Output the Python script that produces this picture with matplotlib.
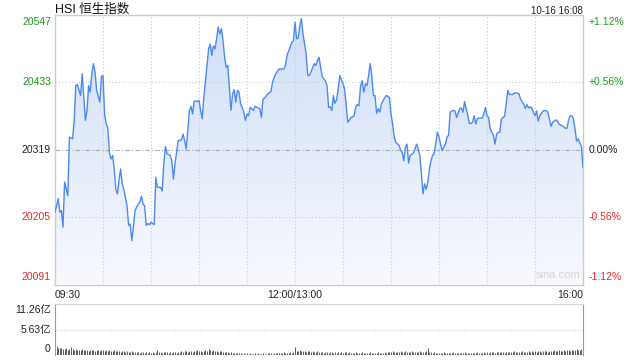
import matplotlib
matplotlib.use('Agg')
import matplotlib.pyplot as plt
import numpy as np
from matplotlib.colors import LinearSegmentedColormap

plt.rcParams['font.family'] = ['Liberation Sans', 'Noto Sans CJK SC', 'DejaVu Sans']

# ---------------- data ----------------
title = 'HSI 恒生指数'
stamp = '10-16 16:08'
prev_close = 20319
price_labels = [20547, 20433, 20319, 20205, 20091]
pct_labels = ['+1.12%', '+0.56%', '0.00%', '-0.56%', '-1.12%']
time_ticks = [0, 150, 330]          # trading minutes since 09:30 (lunch removed)
time_labels = ['09:30', '12:00/13:00', '16:00']
vol_ticks = [11.26, 5.63, 0]
vol_labels = ['11.26亿', '5.63亿', '0']

minutes = [0, 2, 3, 4, 5, 6, 8, 9, 11, 12, 13, 14, 16, 17, 18, 19, 20, 21, 22, 23,
           24, 25, 26, 28, 29, 30, 31, 32, 33, 34, 35, 36, 37, 38, 39, 40, 41, 42, 43, 45,
           46, 47, 48, 49, 50, 52, 53, 54, 55, 56, 57, 58, 59, 60, 62, 63, 64, 66, 67, 68,
           69, 70, 72, 73, 74, 75, 77, 79, 80, 81, 82, 83, 84, 85, 86, 87, 89, 90, 91, 92,
           93, 95, 96, 97, 98, 99, 100, 101, 102, 103, 104, 105, 106, 107, 108, 109, 110, 111, 112, 113,
           114, 115, 116, 117, 118, 119, 120, 121, 122, 124, 125, 127, 128, 129, 130, 131, 133, 135, 136, 137,
           138, 140, 143, 144, 145, 147, 148, 149, 150, 151, 152, 153, 154, 155, 157, 158, 159, 160, 162, 163,
           164, 165, 166, 167, 169, 170, 171, 172, 173, 174, 175, 176, 177, 178, 180, 181, 182, 183, 184, 185,
           187, 188, 189, 190, 191, 192, 193, 194, 195, 196, 197, 198, 199, 200, 201, 202, 203, 204, 206, 207,
           208, 209, 210, 211, 212, 213, 215, 216, 217, 218, 219, 220, 221, 222, 224, 225, 226, 227, 228, 229,
           230, 231, 232, 233, 234, 235, 236, 237, 239, 240, 241, 242, 244, 245, 246, 247, 248, 249, 250, 251,
           253, 254, 255, 256, 257, 258, 259, 260, 261, 262, 263, 264, 265, 267, 268, 269, 270, 271, 272, 273,
           274, 275, 276, 277, 278, 279, 280, 281, 282, 283, 284, 286, 287, 288, 290, 291, 292, 293, 294, 295,
           296, 297, 298, 299, 300, 301, 302, 303, 304, 305, 307, 308, 309, 310, 311, 312, 313, 314, 315, 317,
           318, 319, 320, 321, 322, 323, 324, 325, 326, 327, 328, 329, 330]

index_values = [20213, 20236, 20213, 20216, 20188, 20264, 20241, 20340, 20337, 20368, 20427, 20429, 20410, 20447, 20407, 20368, 20385, 20427, 20416, 20447,
                20464, 20450, 20419, 20399, 20442, 20444, 20379, 20362, 20356, 20314, 20303, 20309, 20286, 20252, 20244, 20267, 20286, 20261, 20252, 20224,
                20191, 20193, 20165, 20188, 20216, 20227, 20230, 20240, 20227, 20224, 20191, 20194, 20192, 20196, 20192, 20272, 20255, 20255, 20249, 20295,
                20324, 20312, 20309, 20300, 20269, 20295, 20334, 20335, 20345, 20334, 20320, 20351, 20385, 20392, 20379, 20401, 20400, 20402, 20385, 20371,
                20407, 20461, 20489, 20497, 20478, 20494, 20489, 20506, 20526, 20514, 20523, 20503, 20475, 20458, 20461, 20424, 20385, 20413, 20420, 20399,
                20419, 20416, 20396, 20390, 20382, 20368, 20379, 20376, 20390, 20385, 20392, 20389, 20388, 20373, 20404, 20406, 20413, 20417, 20433, 20441,
                20447, 20455, 20455, 20461, 20478, 20492, 20500, 20503, 20534, 20506, 20507, 20528, 20540, 20514, 20480, 20444, 20444, 20450, 20464, 20461,
                20469, 20475, 20458, 20442, 20435, 20427, 20390, 20391, 20385, 20410, 20397, 20403, 20421, 20444, 20430, 20421, 20393, 20365, 20369, 20373,
                20376, 20391, 20395, 20393, 20427, 20435, 20416, 20430, 20427, 20444, 20464, 20444, 20410, 20410, 20380, 20388, 20382, 20396, 20406, 20410,
                20409, 20407, 20379, 20362, 20340, 20331, 20326, 20318, 20314, 20300, 20323, 20328, 20296, 20309, 20313, 20320, 20328, 20320, 20309, 20278,
                20244, 20261, 20252, 20264, 20286, 20300, 20309, 20312, 20348, 20340, 20328, 20317, 20328, 20340, 20343, 20382, 20384, 20385, 20384, 20373,
                20388, 20389, 20382, 20400, 20388, 20376, 20363, 20363, 20365, 20376, 20362, 20371, 20372, 20372, 20379, 20390, 20376, 20373, 20354, 20348,
                20343, 20328, 20345, 20348, 20348, 20371, 20373, 20375, 20396, 20419, 20412, 20412, 20414, 20415, 20413, 20404, 20399, 20396, 20388, 20395,
                20389, 20391, 20389, 20382, 20376, 20384, 20367, 20376, 20380, 20384, 20385, 20382, 20371, 20358, 20365, 20367, 20369, 20367, 20362, 20359,
                20357, 20355, 20355, 20369, 20376, 20376, 20371, 20354, 20333, 20337, 20331, 20324, 20289]

# volume per minute (亿), minutes 0..330
volumes = [4.7, 1.9, 1.6, 1.5, 1.6, 1.4, 1.3, 1.5, 1.2, 1.3, 1.8, 1.4, 1.2, 1.3, 1.1, 1.2, 1.0, 1.3, 1.1, 1.2, 1.0, 0.9, 1.1, 1.0, 1.2, 0.9, 1.0, 1.1, 0.9, 1.0,
           1.0, 0.9, 1.2, 0.9, 1.0, 0.8, 0.9, 1.0, 0.8, 0.9, 0.8, 0.7, 0.9, 0.8, 0.7, 0.8, 0.7, 0.6, 0.8, 0.7, 0.6, 0.7, 0.6, 0.5, 0.6, 0.7, 0.5, 0.6, 0.5, 0.6,
           0.5, 0.6, 0.5, 0.7, 1.2, 0.7, 0.6, 0.5, 0.6, 0.7, 0.6, 0.5, 0.6, 0.5, 0.7, 0.6, 0.5, 0.6, 0.7, 0.8, 0.7, 0.9, 0.8, 0.7, 0.9, 0.8, 0.7, 0.8, 0.9, 1.0,
           0.8, 0.9, 0.7, 0.8, 1.0, 0.9, 1.3, 1.0, 0.9, 1.1, 0.8, 0.9, 0.7, 0.8, 0.9, 0.7, 0.6, 0.7, 0.6, 0.5, 0.6, 0.5, 0.4, 0.5, 0.4, 0.5, 0.4, 0.3, 0.4, 0.3,
           0.4, 0.3, 0.4, 0.3, 0.3, 0.4, 0.3, 0.4, 0.3, 0.3, 0.4, 0.3, 0.3, 0.4, 0.5, 0.4, 0.3, 0.4, 0.5, 0.4, 0.5, 0.4, 0.5, 0.6, 0.5, 0.4, 0.5, 0.6, 0.5, 0.6,
           1.7, 0.9, 0.8, 1.0, 0.9, 0.8, 0.9, 0.7, 0.8, 0.9, 0.7, 0.8, 0.6, 0.7, 0.8, 0.6, 0.7, 0.6, 0.5, 0.7, 0.6, 0.5, 0.6, 0.7, 0.5, 0.6, 0.5, 0.6, 0.5, 0.6,
           0.5, 0.7, 0.6, 0.5, 0.6, 0.5, 0.4, 0.5, 0.6, 0.5, 0.4, 0.5, 0.6, 0.4, 0.5, 0.4, 0.5, 0.6, 0.5, 0.4, 0.5, 0.4, 0.6, 0.5, 0.4, 0.5, 0.6, 0.5, 0.7, 0.6,
           0.7, 0.8, 0.6, 0.7, 0.6, 0.7, 0.8, 0.7, 0.6, 0.8, 0.7, 0.6, 0.7, 0.8, 0.7, 0.6, 0.7, 0.6, 0.8, 0.7, 0.6, 0.7, 0.8, 1.5, 0.7, 0.6, 0.5, 0.6, 0.5, 0.4,
           0.5, 0.4, 0.5, 0.6, 0.5, 0.4, 0.5, 0.4, 0.5, 0.6, 0.4, 0.5, 0.4, 0.5, 0.4, 0.5, 0.6, 0.5, 0.4, 0.5, 0.4, 0.5, 0.4, 0.5, 0.6, 0.5, 0.4, 0.5, 0.6, 0.5,
           0.6, 0.5, 0.6, 0.7, 0.6, 0.5, 0.6, 0.7, 0.6, 0.7, 0.6, 0.5, 0.7, 0.6, 0.7, 0.6, 0.7, 0.8, 0.6, 0.7, 0.6, 0.7, 0.8, 0.7, 0.6, 0.7, 0.8, 0.7, 0.8, 0.7,
           0.8, 0.7, 0.8, 0.9, 0.7, 0.8, 0.9, 0.8, 0.7, 0.9, 0.8, 0.9, 1.0, 0.8, 0.9, 1.0, 0.9, 0.8, 1.0, 0.9, 1.1, 1.0, 0.9, 1.2, 1.0, 1.1, 1.3, 1.0, 1.2, 1.4,
           1.4]

# ---------------- figure ----------------
W, H = 640, 360
fig = plt.figure(figsize=(6.4, 3.6), dpi=100)
fig.patch.set_facecolor('white')

ax = fig.add_axes([55 / W, 1 - 284.5 / H, 528 / W, 270 / H])
axv = fig.add_axes([55 / W, 1 - 355 / H, 528 / W, 51 / H])

ymin, ymax = price_labels[-1], price_labels[0]
xmax = time_ticks[-1]

# gradient fill under the line
poly = ax.fill_between(minutes, index_values, ymin, facecolor='none', edgecolor='none')
cmap = LinearSegmentedColormap.from_list('g', ['#f7f9fe', '#cfdef8'])
grad = np.linspace(0, 1, 256).reshape(-1, 1)
im = ax.imshow(grad, extent=[0, xmax, ymin, ymax], origin='lower', aspect='auto',
               cmap=cmap, zorder=1, interpolation='bilinear')
im.set_clip_path(poly.get_paths()[0], transform=ax.transData)

# grid
grid_c = '#cccccc'
for m in range(30, xmax, 30):
    ax.axvline(m, color=grid_c, lw=0.8, ls=(0, (1, 2)), zorder=2)
for v in price_labels[1:-1]:
    if v == prev_close:
        ax.axhline(v, color='#aaaaaa', lw=0.8, ls=(0, (4, 2, 1, 2)), zorder=2)
    else:
        ax.axhline(v, color=grid_c, lw=0.8, ls=(0, (1, 2)), zorder=2)

ax.plot(minutes, index_values, color='#4b8bf0', lw=1.0, zorder=3)

ax.set_xlim(0, xmax)
ax.set_ylim(ymin, ymax)
ax.set_xticks([])
ax.set_yticks([])
for s in ax.spines.values():
    s.set_color('#cccccc')
    s.set_linewidth(1.0)

green, red, black = '#1a9e1a', '#e82a2a', '#222222'
fs = 7.5
label_colors = [green, green, black, red, red]
for v, p, c in zip(price_labels, pct_labels, label_colors):
    va = 'center'
    dy = 0
    if v == ymax:
        va, dy = 'top', -2
    elif v == ymin:
        va, dy = 'bottom', 2
    ax.annotate(str(v), xy=(0, v), xycoords=('axes fraction', 'data'),
                xytext=(-3, dy), textcoords='offset points', ha='right', va=va,
                color=c, fontsize=fs)
    ax.annotate(p, xy=(1, v), xycoords=('axes fraction', 'data'),
                xytext=(4, dy), textcoords='offset points', ha='left', va=va,
                color=c, fontsize=fs)

# time labels
for t, lab in zip(time_ticks, time_labels):
    ha = 'left' if t == 0 else ('right' if t == xmax else 'center')
    ax.annotate(lab, xy=(t, 0), xycoords=('data', 'axes fraction'),
                xytext=(0, -4), textcoords='offset points', ha=ha, va='top',
                color=black, fontsize=fs)

fig.text(55 / W, 1 - 9.5 / H, title, fontsize=9, ha='left', va='center', color='#111111')
fig.text(583 / W, 1 - 10.5 / H, stamp, fontsize=7, ha='right', va='center', color='#222222')
ax.text(0.995, 0.015, 'sina.com', transform=ax.transAxes, ha='right', va='bottom',
        fontsize=8, color='#d5d5d5')

# ---------------- volume panel ----------------
vol_x = list(range(len(volumes)))
axv.vlines(vol_x, 0, volumes, color='#5a5a5a', lw=0.7)
axv.set_xlim(0, xmax)
axv.set_ylim(0, vol_ticks[0])
axv.set_xticks([])
axv.set_yticks([])
axv.axhline(vol_ticks[1], color=grid_c, lw=0.8, ls=(0, (1, 1.5)))
axv.spines['top'].set_color(grid_c)
axv.spines['top'].set_linestyle((0, (1, 1.5)))
axv.spines['top'].set_linewidth(0.8)
axv.spines['bottom'].set_visible(False)
for k in ('left', 'right'):
    axv.spines[k].set_color('#999999')
    axv.spines[k].set_linewidth(0.8)
for v, lab in zip(vol_ticks, vol_labels):
    va, dy = 'center', 0
    if v == vol_ticks[0]:
        va, dy = 'top', -1
    elif v == 0:
        va, dy = 'bottom', 1
    axv.annotate(lab, xy=(0, v), xycoords=('axes fraction', 'data'),
                 xytext=(-3, dy), textcoords='offset points', ha='right', va=va,
                 color=black, fontsize=fs)

fig.savefig('out.png', dpi=100, facecolor='white')
